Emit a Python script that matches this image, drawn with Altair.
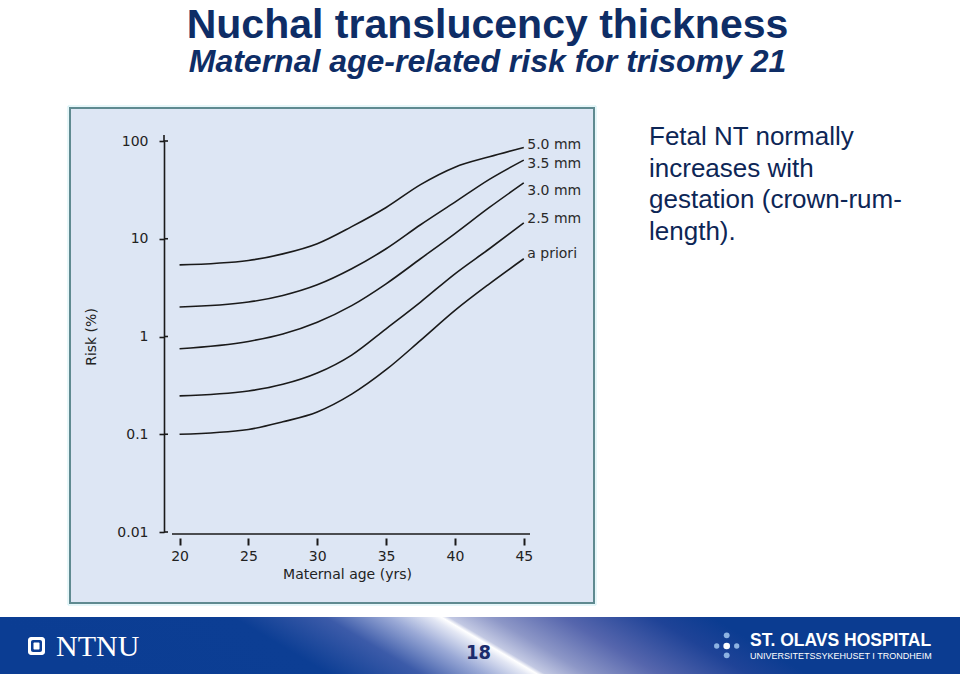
import altair as alt
import pandas as pd

# ---------------- data ----------------
ages = [20, 25, 27.5, 30, 32.5, 35, 37.5, 40, 42.5, 45]
risk_5_0 = [5.4, 6.0, 7.0, 8.9, 13.3, 20.9, 35.8, 54, 69, 86]
risk_3_5 = [2.0, 2.25, 2.63, 3.38, 4.93, 7.9, 13.9, 23.7, 40.5, 63.7]
risk_3_0 = [0.75, 0.89, 1.06, 1.40, 2.07, 3.46, 6.24, 11.3, 20.9, 37.3]
risk_2_5 = [0.247, 0.277, 0.324, 0.423, 0.646, 1.20, 2.25, 4.38, 7.9, 14.5]
risk_apriori = [0.100, 0.112, 0.134, 0.169, 0.257, 0.457, 0.912, 1.85, 3.46, 6.24]

series_names = ["5.0 mm", "3.5 mm", "3.0 mm", "2.5 mm", "a priori"]
series_values = [risk_5_0, risk_3_5, risk_3_0, risk_2_5, risk_apriori]

label_age = [45.25, 45.25, 45.25, 45.25, 45.25]
label_risk = [92, 58, 30.6, 15.9, 6.95]

x_ticks = [20, 25, 30, 35, 40, 45]
y_ticks = [0.01, 0.1, 1, 10, 100]

title_text = "Nuchal translucency thickness"
subtitle_text = "Maternal age-related risk for trisomy 21"
side_text = "Fetal NT normally\nincreases with\ngestation (crown-rum-\nlength)."
page_number = "18"

# ---------------- tables ----------------
rows = []
for name, vals in zip(series_names, series_values):
    for a, r in zip(ages, vals):
        rows.append({"age": a, "risk": r, "series": name})
curves_df = pd.DataFrame(rows)
labels_df = pd.DataFrame({"age": label_age, "risk": label_risk, "label": series_names})
yticks_df = pd.DataFrame({"risk": y_ticks})
one = pd.DataFrame({"k": [0]})

W, H = 366, 391
NAVY = "#0e2d66"
FONT = "DejaVu Sans"

x_scale = alt.Scale(domain=[18.87, 45.45], nice=False, zero=False)
y_scale = alt.Scale(type="log", domain=[0.01, 100], nice=False)


def box(x, x2, y, y2, **kw):
    return alt.Chart(one).mark_rect(**kw).encode(
        x=alt.value(x), x2=alt.value(x2), y=alt.value(y), y2=alt.value(y2)
    )


def label(text, x, y, **kw):
    return alt.Chart(one).mark_text(**kw).encode(
        x=alt.value(x), y=alt.value(y), text=alt.value(text)
    )


def dot(x, y, size, color):
    return alt.Chart(one).mark_circle(size=size, color=color, opacity=1).encode(
        x=alt.value(x), y=alt.value(y)
    )


# panel
panel_glow = box(-96, 432, -35, 464, fill=None, stroke="#cdeef3", strokeWidth=1)
panel = box(-94, 430, -33, 462, fill="#dde6f4", stroke="#5f8a90", strokeWidth=2)

# footer
footer_grad = alt.Gradient(
    gradient="linear",
    x1=0, y1=0.1, x2=1, y2=0,
    stops=[
        alt.GradientStop(color="#0b3d93", offset=0.0),
        alt.GradientStop(color="#0c3e94", offset=0.25),
        alt.GradientStop(color="#3c5ba9", offset=0.345),
        alt.GradientStop(color="#9aa9d6", offset=0.41),
        alt.GradientStop(color="#e3e7f4", offset=0.453),
        alt.GradientStop(color="#ffffff", offset=0.465),
        alt.GradientStop(color="#c3c9e3", offset=0.473),
        alt.GradientStop(color="#8d97c7", offset=0.517),
        alt.GradientStop(color="#5666ad", offset=0.59),
        alt.GradientStop(color="#1f4397", offset=0.682),
        alt.GradientStop(color="#0b3c91", offset=0.744),
        alt.GradientStop(color="#0b3c91", offset=1.0),
    ],
)
footer = box(-164, 796, 476, 533, fill=footer_grad)

# NTNU logo
ntnu_outer = box(-136, -119, 496, 514, fill="white", cornerRadius=3)
ntnu_mid = box(-133, -122, 499, 511, fill="#0c3e94", cornerRadius=2)
ntnu_inner = box(-130.5, -124.5, 501.5, 508.5, fill="white", cornerRadius=1)
ntnu_text = label("NTNU", -108, 515, font="Liberation Serif", fontSize=30,
                  color="white", align="left", baseline="alphabetic")

# St. Olavs logo
d1 = dot(562.7, 494.3, 34, "#8db3e2")
d2 = dot(552.7, 505, 28, "#8db3e2")
d3 = dot(562.7, 505, 44, "white")
d4 = dot(572.7, 505, 28, "#8db3e2")
d5 = dot(562.7, 514.3, 34, "#8db3e2")
olavs1 = label("ST. OLAVS HOSPITAL", 586, 505.3, font="Liberation Sans", fontSize=17.5,
               fontWeight="bold", color="white", align="left", baseline="alphabetic")
olavs2 = label("UNIVERSITETSSYKEHUSET I TRONDHEIM", 586, 518, font="Liberation Sans",
               fontSize=9, color="white", align="left", baseline="alphabetic")

page = label(page_number, 314.5, 518,
             font="'Liberation Sans Narrow', 'DejaVu Sans Condensed', 'Liberation Sans', sans-serif",
             fontSize=20, fontWeight="bold", color="#1c2b6b", align="center",
             baseline="alphabetic")

# titles and side text
title = label(title_text, 323.5, -103.5, font="Liberation Sans", fontSize=41,
              fontWeight="bold", color=NAVY, align="center", baseline="alphabetic")
subtitle = label(subtitle_text, 323.5, -69, font="Liberation Sans", fontSize=32,
                 fontWeight="bold", fontStyle="italic", color=NAVY, align="center",
                 baseline="alphabetic")
side = label(side_text, 485, 4, font="Liberation Sans", fontSize=26, color="#0d2656",
             align="left", baseline="alphabetic", lineBreak="\n", lineHeight=31.7)

# axes decorations
x_line = alt.Chart(one).mark_rule(color="#1a1a1a", strokeWidth=1.6).encode(
    x=alt.value(8), x2=alt.value(366), y=alt.value(393)
)
y_top = alt.Chart(one).mark_rule(color="#1a1a1a", strokeWidth=1.6).encode(
    x=alt.value(0), y=alt.value(-6), y2=alt.value(0)
)
y_inner_ticks = alt.Chart(yticks_df).mark_rule(color="#1a1a1a", strokeWidth=1.6).encode(
    y=alt.Y("risk:Q", scale=y_scale), x=alt.value(0), x2=alt.value(4)
)

curves = alt.Chart(curves_df).mark_line(
    color="#1a1a1a", strokeWidth=1.6, interpolate="monotone"
).encode(
    x=alt.X("age:Q", scale=x_scale,
            axis=alt.Axis(values=x_ticks, title="Maternal age (yrs)", domain=False,
                          offset=6, tickSize=7, tickWidth=2, tickColor="#1a1a1a",
                          labelFont=FONT, labelFontSize=14, labelColor="#222222",
                          labelPadding=4, titleFont=FONT, titleFontSize=14,
                          titleFontWeight="normal", titleColor="#222222",
                          titlePadding=4, grid=False, zindex=1)),
    y=alt.Y("risk:Q", scale=y_scale,
            axis=alt.Axis(values=y_ticks, title="Risk (%)", domain=True,
                          domainColor="#1a1a1a", domainWidth=1.6, tickSize=5,
                          tickWidth=1.6, tickColor="#1a1a1a", labelFont=FONT,
                          labelFontSize=14, labelColor="#222222", labelPadding=11,
                          labelExpr="datum.value >= 1 ? format(datum.value, 'd') : format(datum.value, '')",
                          titleFont=FONT, titleFontSize=14, titleFontWeight="normal",
                          titleColor="#222222", titlePadding=18, grid=False, zindex=1)),
    detail="series:N",
)

curve_labels = alt.Chart(labels_df).mark_text(
    font=FONT, fontSize=14, color="#2a2a2a", align="left", baseline="middle"
).encode(
    x=alt.X("age:Q", scale=x_scale),
    y=alt.Y("risk:Q", scale=y_scale),
    text="label:N",
)

chart = alt.layer(
    panel_glow, panel, footer, ntnu_outer, ntnu_mid, ntnu_inner, ntnu_text,
    d1, d2, d3, d4, d5, olavs1, olavs2, page, title, subtitle, side,
    x_line, y_top, y_inner_ticks, curves, curve_labels,
).properties(
    width=W, height=H,
    padding={"left": 164, "top": 141, "right": 430, "bottom": 142},
    autosize=alt.AutoSizeParams(type="none"),
    background="white",
).configure_view(stroke=None)

chart.save("out.html", embed_options={"renderer": "svg", "actions": False})
